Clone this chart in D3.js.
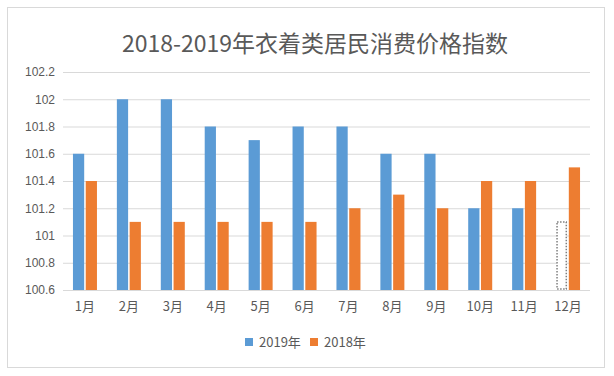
<!DOCTYPE html>
<html>
<head>
<meta charset="utf-8">
<script src="https://cdn.jsdelivr.net/npm/d3@7"></script>
<style>
  body { margin: 0; background: #fff; }
  text { font-family: "Noto Sans CJK SC", "Noto Sans", sans-serif; }
</style>
</head>
<body>
<div id="chart-area"></div>
<script>
var months = ["1月", "2月", "3月", "4月", "5月", "6月", "7月", "8月", "9月", "10月", "11月", "12月"];
var series = ["2019年", "2018年"];
var values2019 = [101.6, 102, 102, 101.8, 101.7, 101.8, 101.8, 101.6, 101.6, 101.2, 101.2, 101.1];
var values2018 = [101.4, 101.1, 101.1, 101.1, 101.1, 101.1, 101.2, 101.3, 101.2, 101.4, 101.4, 101.5];
// the 12月 2019 bar is drawn as a dotted outline (not published yet)
var dottedMonths = ["12月"];
var yTicks = [100.6, 100.8, 101, 101.2, 101.4, 101.6, 101.8, 102, 102.2];
var colors = ["#5b9bd5", "#ed7d31"];

var W = 614, H = 376;
var margin = { left: 63, right: 24, top: 72, bottom: 86 };
var width = W - margin.left - margin.right;
var height = H - margin.top - margin.bottom;

var svg = d3.select("#chart-area").append("svg")
  .attr("width", W)
  .attr("height", H);

// outer frame
svg.append("rect")
  .attr("x", 7.5).attr("y", 7.5)
  .attr("width", 597).attr("height", 360)
  .attr("fill", "#fff")
  .attr("stroke", "#d9d9d9");

svg.append("text")
  .attr("x", 315)
  .attr("y", 52)
  .attr("text-anchor", "middle")
  .attr("font-size", 23)
  .attr("fill", "#595959")
  .text("2018-2019年衣着类居民消费价格指数");

var g = svg.append("g")
  .attr("transform", "translate(" + margin.left + "," + margin.top + ")");

var x = d3.scaleBand().domain(months).range([0, width]);
var x1 = d3.scaleBand().domain(series).range([x.bandwidth() / 2 - 12, x.bandwidth() / 2 + 12]).paddingInner(0.12);
var y = d3.scaleLinear().domain([100.6, 102.2]).range([height, 0]);
var color = d3.scaleOrdinal().domain(series).range(colors);

// gridlines
g.append("g")
  .call(d3.axisLeft(y).tickValues(yTicks).tickSize(-width).tickFormat(d3.format("")))
  .call(function(a) {
    a.select(".domain").remove();
    a.selectAll(".tick line").attr("stroke", "#d9d9d9");
    a.selectAll(".tick text").attr("x", -8).attr("fill", "#595959").attr("font-size", 12)
      .style("font-family", "'Liberation Sans', sans-serif");
  });

var data = months.map(function(m, i) {
  return { month: m, values: [
    { key: "2019年", v: values2019[i] },
    { key: "2018年", v: values2018[i] }
  ]};
});

var groups = g.selectAll(".month").data(data).enter().append("g")
  .attr("transform", function(d) { return "translate(" + x(d.month) + ",0)"; });

groups.selectAll("rect").data(function(d) {
    return d.values.map(function(v) { return { month: d.month, key: v.key, v: v.v }; });
  })
  .enter().append("rect")
  .attr("x", function(d) { return x1(d.key); })
  .attr("y", function(d) { return y(d.v); })
  .attr("width", x1.bandwidth())
  .attr("height", function(d) { return height - y(d.v); })
  .each(function(d) {
    var dotted = d.key === "2019年" && dottedMonths.indexOf(d.month) >= 0;
    var r = d3.select(this);
    if (dotted) {
      r.attr("fill", "#fff").attr("stroke", "#7f7f7f").attr("stroke-width", 1.5)
        .attr("stroke-dasharray", "1.5,1.5")
        .attr("x", x1(d.key) + 1).attr("width", x1.bandwidth() - 2)
        .attr("height", height - y(d.v) - 1);
    } else {
      r.attr("fill", color(d.key));
    }
  });

// baseline
g.append("line")
  .attr("x1", 0).attr("x2", width)
  .attr("y1", height + 0.5).attr("y2", height + 0.5)
  .attr("stroke", "#d9d9d9");

g.append("g")
  .attr("transform", "translate(0," + height + ")")
  .call(d3.axisBottom(x).tickSize(0))
  .call(function(a) {
    a.select(".domain").remove();
    a.selectAll(".tick text").attr("dy", 18).attr("fill", "#595959").attr("font-size", 13);
  });

// legend
var legend = svg.append("g").attr("transform", "translate(245,336)");
var items = [{ key: "2019年", dx: 0 }, { key: "2018年", dx: 65 }];
items.forEach(function(it) {
  var row = legend.append("g").attr("transform", "translate(" + it.dx + ",0)");
  row.append("rect").attr("width", 8).attr("height", 8).attr("y", 2).attr("fill", color(it.key));
  row.append("text").attr("x", 14).attr("y", 11).attr("font-size", 13).attr("fill", "#595959").text(it.key);
});
</script>
</body>
</html>
